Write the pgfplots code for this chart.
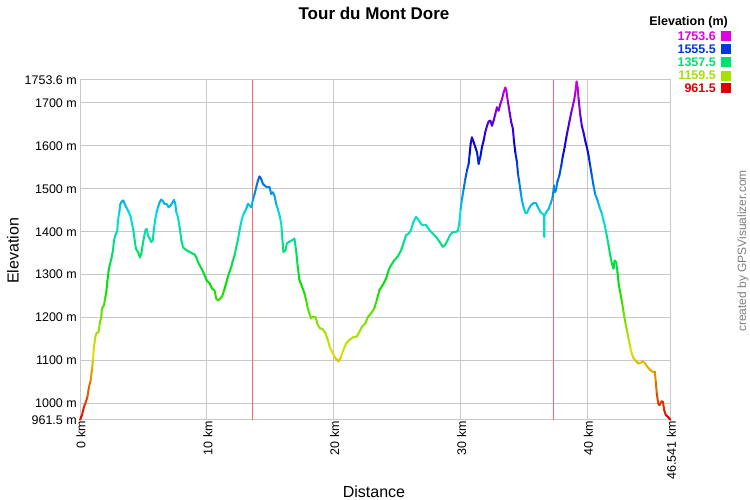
\documentclass[border=0pt]{standalone}
\usepackage{pgfplots}
\pgfplotsset{compat=1.18}
\usepackage{pgfplotstable}
\usepackage{fontspec}
\setmainfont{Liberation Sans}
\definecolor{gridgray}{RGB}{200,200,200}
\definecolor{redline}{RGB}{255,100,100}
\definecolor{cmag}{RGB}{224,0,224}
\definecolor{cblue}{RGB}{0,56,224}
\definecolor{cgreen}{RGB}{0,224,112}
\definecolor{cyg}{RGB}{168,224,0}
\definecolor{cred}{RGB}{224,0,0}
\definecolor{credit}{RGB}{128,128,128}

\pgfplotstableread{
km elev
0 962
0.16 973
0.31 992
0.42 1000
0.58 1015
0.71 1039
0.84 1054
0.95 1081
1.02 1101
1.10 1132
1.21 1155
1.29 1163
1.47 1167
1.55 1186
1.68 1202
1.73 1221
1.89 1229
2.00 1248
2.08 1260
2.15 1283
2.26 1310
2.34 1322
2.47 1337
2.60 1357
2.68 1380
2.78 1391
2.94 1403
2.99 1426
3.10 1446
3.18 1465
3.31 1471
3.41 1473
3.52 1465
3.65 1457
3.84 1446
4.00 1434
4.10 1419
4.21 1403
4.31 1380
4.41 1360
4.57 1353
4.73 1340
4.83 1349
4.91 1364
5.02 1384
5.15 1403
5.25 1407
5.36 1391
5.49 1384
5.62 1376
5.73 1380
5.83 1407
5.94 1430
6.04 1446
6.15 1457
6.28 1469
6.41 1475
6.54 1471
6.67 1465
6.83 1465
6.99 1457
7.14 1461
7.30 1469
7.41 1474
7.51 1465
7.59 1446
7.72 1434
7.85 1411
7.99 1380
8.12 1364
8.25 1360
8.51 1355
8.77 1351
9.04 1347
9.17 1340
9.30 1329
9.43 1322
9.61 1312
9.77 1302
9.98 1287
10.21 1280
10.42 1267
10.60 1264
10.74 1244
10.87 1240
11.05 1244
11.21 1250
11.39 1267
11.58 1287
11.73 1302
11.92 1318
12.05 1333
12.18 1345
12.31 1364
12.44 1380
12.57 1403
12.70 1422
12.84 1438
12.97 1446
13.10 1453
13.23 1465
13.36 1461
13.49 1457
13.62 1473
13.76 1488
13.89 1504
14.02 1519
14.15 1529
14.28 1523
14.41 1512
14.54 1508
14.68 1505
14.81 1505
14.94 1504
15.07 1488
15.20 1492
15.33 1484
15.46 1465
15.59 1453
15.73 1438
15.86 1419
15.94 1388
16.03 1353
16.20 1357
16.30 1373
16.51 1377
16.77 1381
16.90 1384
17.03 1357
17.16 1319
17.29 1288
17.50 1272
17.69 1257
17.82 1241
17.95 1222
18.08 1210
18.21 1198
18.35 1202
18.56 1201
18.74 1183
18.92 1175
19.13 1173
19.34 1164
19.53 1148
19.71 1129
19.87 1121
20.05 1109
20.24 1102
20.39 1098
20.58 1109
20.76 1125
20.97 1140
21.23 1148
21.50 1154
21.81 1156
22.02 1167
22.23 1179
22.50 1187
22.68 1201
22.94 1210
23.20 1222
23.39 1241
23.60 1264
23.86 1276
24.12 1291
24.33 1311
24.52 1322
24.78 1334
25.04 1342
25.31 1357
25.49 1373
25.70 1392
25.91 1396
26.09 1404
26.28 1423
26.49 1435
26.70 1427
26.88 1418
27.07 1415
27.28 1415
27.54 1404
27.80 1396
28.07 1388
28.33 1377
28.59 1365
28.77 1369
28.98 1381
29.17 1392
29.38 1400
29.64 1400
29.79 1403
29.90 1422
30.00 1453
30.11 1477
30.24 1500
30.37 1523
30.50 1543
30.63 1558
30.71 1581
30.79 1605
30.89 1620
31.02 1609
31.16 1597
31.29 1585
31.42 1558
31.55 1574
31.68 1597
31.81 1612
31.94 1632
32.08 1647
32.21 1657
32.34 1659
32.47 1647
32.60 1659
32.73 1674
32.86 1690
32.99 1682
33.13 1698
33.26 1709
33.39 1725
33.52 1736
33.60 1729
33.73 1702
33.86 1678
33.99 1655
34.12 1640
34.20 1612
34.31 1585
34.44 1562
34.52 1535
34.62 1516
34.73 1493
34.83 1473
34.96 1457
35.10 1444
35.23 1444
35.36 1453
35.57 1463
35.75 1467
35.94 1467
36.09 1457
36.28 1446
36.46 1442
36.57 1438
36.59 1388
36.61 1438
36.75 1446
36.93 1453
37.09 1465
37.25 1481
37.36 1508
37.41 1492
37.51 1496
37.62 1516
37.78 1531
37.93 1554
38.04 1574
38.20 1597
38.33 1620
38.46 1640
38.59 1659
38.72 1678
38.85 1694
38.96 1709
39.06 1729
39.14 1750
39.22 1736
39.30 1709
39.42 1674
39.55 1647
39.68 1632
39.82 1612
39.95 1597
40.08 1578
40.21 1554
40.34 1531
40.47 1508
40.60 1488
40.79 1473
40.95 1457
41.13 1442
41.26 1426
41.39 1411
41.52 1391
41.66 1368
41.79 1345
41.92 1326
42.05 1314
42.13 1333
42.26 1329
42.36 1306
42.47 1275
42.57 1260
42.71 1237
42.84 1213
42.97 1190
43.10 1171
43.23 1151
43.36 1132
43.49 1116
43.62 1106
43.84 1098
44.02 1093
44.20 1095
44.36 1098
44.54 1093
44.73 1085
44.94 1078
45.15 1074
45.31 1074
45.38 1050
45.46 1023
45.57 1000
45.67 996
45.83 1005
45.94 1004
46.04 985
46.17 973
46.33 969
46.45 965
46.54 962
}\profile

\begin{document}
\begin{tikzpicture}[x=1bp,y=1bp]
\useasboundingbox[fill=white] (0,0) rectangle (750,500);
\begin{axis}[
  at={(80bp,80bp)}, anchor=south west,
  scale only axis, width=590.5bp, height=340bp,
  xmin=0, xmax=46.541, ymin=961.5, ymax=1753.6,
  axis line style={draw=gridgray, line width=1bp},
  grid=major, major grid style={draw=gridgray, line width=1bp},
  tick style={draw=none},
  xtick={0,10,20,30,40,46.541},
  xticklabels={0 km,10 km,20 km,30 km,40 km,46.541 km},
  ytick={961.5,1000,1100,1200,1300,1400,1500,1600,1700,1753.6},
  yticklabels={961.5 m,1000 m,1100 m,1200 m,1300 m,1400 m,1500 m,1600 m,1700 m,1753.6 m},
  tick label style={font=\fontsize{12.5bp}{14bp}\selectfont, text=black},
  x tick label style={rotate=90, anchor=east, inner sep=1bp, yshift=-1bp},
  y tick label style={inner sep=1bp, xshift=-2bp},
  colormap={gps}{rgb255=(224,0,0) rgb255=(224,112,0) rgb255=(224,224,0) rgb255=(112,224,0) rgb255=(0,224,0) rgb255=(0,224,112) rgb255=(0,224,224) rgb255=(0,112,224) rgb255=(0,0,224) rgb255=(112,0,224) rgb255=(224,0,224)},
  point meta min=961.5, point meta max=1753.6,
  clip=false,
]
\addplot[draw=redline, line width=1bp] coordinates {(13.57,961.5) (13.57,1753.6)};
\addplot[draw=redline, line width=1bp] coordinates {(37.33,961.5) (37.33,1753.6)};
\addplot[mesh, point meta=\thisrow{elev}, line width=2bp, line cap=round, line join=round] table[x=km, y=elev] {\profile};
\end{axis}
% titles
\node[font=\bfseries\fontsize{17bp}{20bp}\selectfont] at (374,487) {Tour du Mont Dore};
\node[font=\fontsize{16bp}{19bp}\selectfont, rotate=90] at (13,249) {Elevation};
\node[font=\fontsize{16bp}{19bp}\selectfont] at (374,8) {Distance};
\node[font=\fontsize{12bp}{14bp}\selectfont, text=credit, rotate=90] at (743,249) {created by GPSVisualizer.com};
% legend
\node[font=\bfseries\fontsize{12.5bp}{14bp}\selectfont, anchor=east, inner sep=0] at (728,478) {Elevation (m)};
\foreach \yy/\lab/\col in {464/1753.6/cmag, 450.7/1555.5/cblue, 437.7/1357.5/cgreen, 424.3/1159.5/cyg, 411.5/961.5/cred}{
  \node[font=\bfseries\fontsize{12.5bp}{14bp}\selectfont, text=\col, anchor=east, inner sep=0] at (716,\yy) {\lab};
  \fill[\col] (720.5,\yy-5) rectangle (731,\yy+5);
}
\end{tikzpicture}
\end{document}
